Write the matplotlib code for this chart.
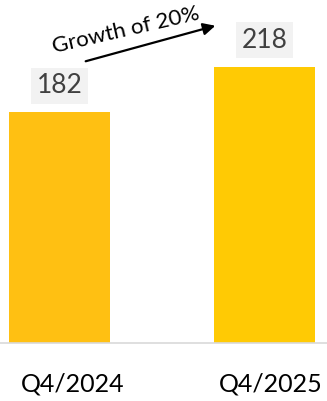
import matplotlib.pyplot as plt
from matplotlib.patches import FancyArrowPatch

categories = ["Q4/2024", "Q4/2025"]
values = [182, 218]
value_labels = ["182", "218"]
bar_colors = ["#FFC012", "#FFCA04"]
growth_text = "Growth of 20%"

plt.rcParams['font.family'] = ['Lato', 'DejaVu Sans']

W, H = 327, 401
fig = plt.figure(figsize=(W / 100, H / 100), dpi=100)
ax = fig.add_axes([0, 1 - 343 / H, 1, 343 / H])

x = list(range(len(categories)))
ax.bar(x, values, width=0.49, color=bar_colors, zorder=2)
ax.set_xlim(-0.29, 1.305)
ax.set_ylim(0, 270.5)

for s in ["top", "right", "left"]:
    ax.spines[s].set_visible(False)
ax.spines["bottom"].set_color("#D9D9D9")
ax.spines["bottom"].set_linewidth(1.2)
ax.set_yticks([])
ax.set_xticks([])

# value labels above the bars
for xi, v, lab in zip(x, values, value_labels):
    ax.annotate(lab, xy=(xi, v), xytext=(0, 19), textcoords="offset points",
                ha="center", va="center", fontsize=19, color="#404040",
                bbox=dict(boxstyle="square,pad=0.22", fc="#F2F2F2", ec="none"))

# category labels below the axis
label_shift = [0.065, 0.03]
for xi, cat, sh in zip(x, categories, label_shift):
    ax.text(xi + sh, -41 / 1.268, cat, ha="center", va="center",
            fontsize=18, color="#000000")

# growth arrow with caption
fig.patches.append(FancyArrowPatch(
    (83, H - 62), (218, H - 25), transform=None,
    arrowstyle="-|>", mutation_scale=18, lw=1.6, color="black"))
fig.text(126 / W, 1 - 30 / H, growth_text, rotation=13, ha="center",
         va="center", fontsize=16, color="black")

fig.savefig("out.png", dpi=100)
